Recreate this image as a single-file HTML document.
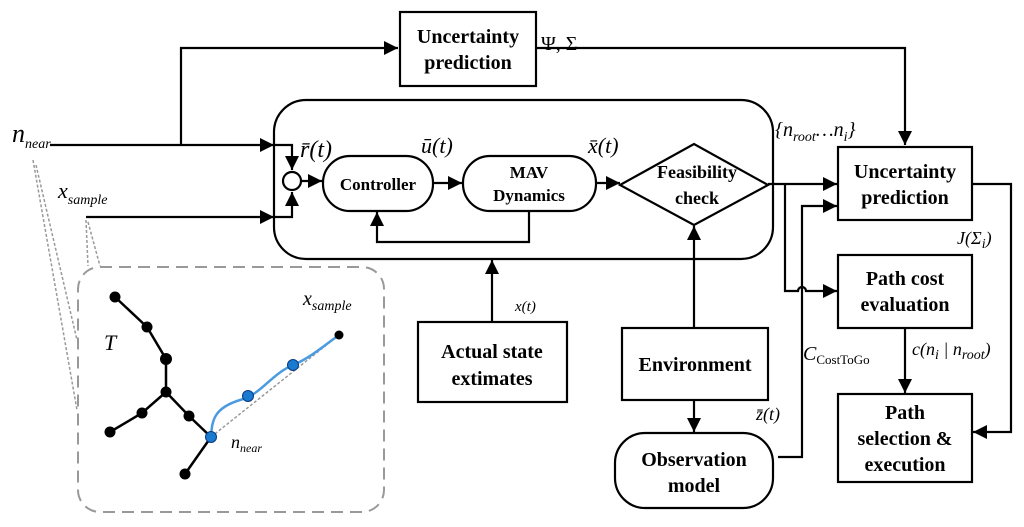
<!DOCTYPE html>
<html><head><meta charset="utf-8"><style>
body{margin:0;background:#fff}
svg{display:block}
.b{font-family:"Liberation Serif",serif;font-weight:bold;font-size:20px;text-anchor:middle}
.i{font-family:"Liberation Serif",serif;font-style:italic;font-size:22px}
.s{font-size:14px}
</style></head><body>
<svg width="1024" height="527" viewBox="0 0 1024 527" xmlns="http://www.w3.org/2000/svg">
<defs>
<marker id="h" viewBox="0 0 10 10" markerWidth="20" markerHeight="14" refX="10" refY="5" orient="auto" markerUnits="userSpaceOnUse"><path d="M0,0 L10,5 L0,10 z"/></marker></defs>
<g fill="none" stroke="#000" stroke-width="2.2">
<rect x="400" y="12" width="136" height="74"/>
<path d="M181,145 V48 H398" marker-end="url(#h)"/>
<path d="M536,48 H905 V145" marker-end="url(#h)"/>
<rect x="274" y="100" width="499" height="159" rx="32"/>
<path d="M50,145 H274" marker-end="url(#h)"/>
<path d="M274,145 H292 V170" marker-end="url(#h)"/>
<path d="M86,217 H274" marker-end="url(#h)"/>
<path d="M274,217 H292 V192" marker-end="url(#h)"/>
<circle cx="292" cy="181" r="9"/>
<path d="M301,181 H322" marker-end="url(#h)"/>
<rect x="323" y="156" width="110" height="55" rx="27"/>
<path d="M433,183 H462" marker-end="url(#h)"/>
<rect x="463" y="156" width="133" height="55" rx="27"/>
<path d="M596,183 H620" marker-end="url(#h)"/>
<path d="M529,211 V242 H377 V212" marker-end="url(#h)"/>
<path d="M620,185 L694,144 L768,185 L694,225 Z"/>
<rect x="838" y="147" width="134" height="73"/>
<rect x="838" y="255" width="134" height="73"/>
<rect x="838" y="394" width="134" height="88"/>
<path d="M768,184 H837" marker-end="url(#h)"/>
<path d="M785,184 V291 H798 a4,4 0 0 1 8,0 H837" marker-end="url(#h)"/>
<path d="M778,457 H802 V206 H837" marker-end="url(#h)"/>
<path d="M972,184 H1011 V432 H973" marker-end="url(#h)"/>
<path d="M905,328 V393" marker-end="url(#h)"/>
<rect x="418" y="322" width="149" height="80"/>
<path d="M492,322 V260" marker-end="url(#h)"/>
<rect x="622" y="328" width="146" height="72"/>
<path d="M694,328 V226" marker-end="url(#h)"/>
<path d="M694,400 V432" marker-end="url(#h)"/>
<rect x="615" y="433" width="158" height="75" rx="30"/>
</g>
<g fill="none" stroke="#999" stroke-width="2" stroke-dasharray="12,7">
<rect x="78" y="267" width="306" height="245" rx="22"/>
</g>
<g fill="none" stroke="#999" stroke-width="1.5" stroke-dasharray="3,2">
<path d="M33,160 L77,410 M36,165 L77,340 M86,220 L88,266 M88,222 L100,266"/>
<path d="M211,437 L339,335"/>
</g>
<g stroke="#000" stroke-width="2.5" fill="none">
<path d="M115,297 L147,327 L166,359 L166,392 L142,413 L110,432 M166,392 L189,416 L211,437 L185,474"/>
</g>
<path d="M211,437 C212,420 214,408 240,400 C262,394 270,375 293,365 C310,358 325,345 339,335" fill="none" stroke="#4a9be0" stroke-width="2.5"/>
<g fill="#000"><circle cx="115" cy="297" r="5.5"/><circle cx="147" cy="327" r="5.5"/><circle cx="166" cy="359" r="6"/><circle cx="166" cy="392" r="5.5"/><circle cx="142" cy="413" r="5.5"/><circle cx="110" cy="432" r="5.5"/><circle cx="189" cy="416" r="5.5"/><circle cx="185" cy="474" r="5.5"/><circle cx="339" cy="335" r="4.5"/></g>
<g fill="#1a7ad0" stroke="#0a3a80" stroke-width="1"><circle cx="211" cy="437" r="5.5"/><circle cx="248" cy="396" r="5.5"/><circle cx="293" cy="365" r="5.5"/></g>
<g class="b">
<text x="468" y="43">Uncertainty</text><text x="468" y="69">prediction</text>
<text x="378" y="190" font-size="17">Controller</text>
<text x="529" y="178" font-size="17">MAV</text><text x="529" y="201" font-size="17">Dynamics</text>
<text x="697" y="178" font-size="18">Feasibility</text><text x="697" y="204" font-size="18">check</text>
<text x="905" y="178">Uncertainty</text><text x="905" y="204">prediction</text>
<text x="905" y="285">Path cost</text><text x="905" y="311">evaluation</text>
<text x="905" y="419">Path</text><text x="905" y="445">selection &amp;</text><text x="905" y="471">execution</text>
<text x="492" y="358">Actual state</text><text x="492" y="385">extimates</text>
<text x="695" y="371">Environment</text>
<text x="694" y="466">Observation</text><text x="694" y="492">model</text>
</g>
<g class="i">
<text x="12" y="142" font-size="26">n<tspan class="s" dy="6">near</tspan></text>
<text x="58" y="198">x<tspan class="s" dy="6">sample</tspan></text>
<text x="300" y="157" font-size="24">r̄(t)</text>
<text x="421" y="153" font-size="22">ū(t)</text>
<text x="588" y="153" font-size="22">x̄(t)</text>
<text x="541" y="50" font-size="20" font-style="normal">Ψ, Σ</text>
<text x="775" y="136" font-size="20">{n<tspan class="s" dy="5">root</tspan><tspan dy="-5">…n</tspan><tspan class="s" dy="5">i</tspan><tspan dy="-5">}</tspan></text>
<text x="957" y="244" font-size="18">J(Σ<tspan class="s" dy="4">i</tspan><tspan dy="-4">)</tspan></text>
<text x="912" y="355" font-size="18">c(n<tspan class="s" dy="4">i</tspan><tspan dy="-4"> | n</tspan><tspan class="s" dy="4">root</tspan><tspan dy="-4">)</tspan></text>
<text x="803" y="360" font-size="20">C<tspan font-style="normal" font-size="13" dy="4">CostToGo</tspan></text>
<text x="756" y="420" font-size="18">z̄(t)</text>
<text x="515" y="311" font-size="15">x(t)</text>
<text x="104" y="350">T</text>
<text x="303" y="305" font-size="20">x<tspan class="s" dy="5">sample</tspan></text>
<text x="231" y="448" font-size="18">n<tspan font-size="12" dy="4">near</tspan></text>
</g>
</svg>
</body></html>
